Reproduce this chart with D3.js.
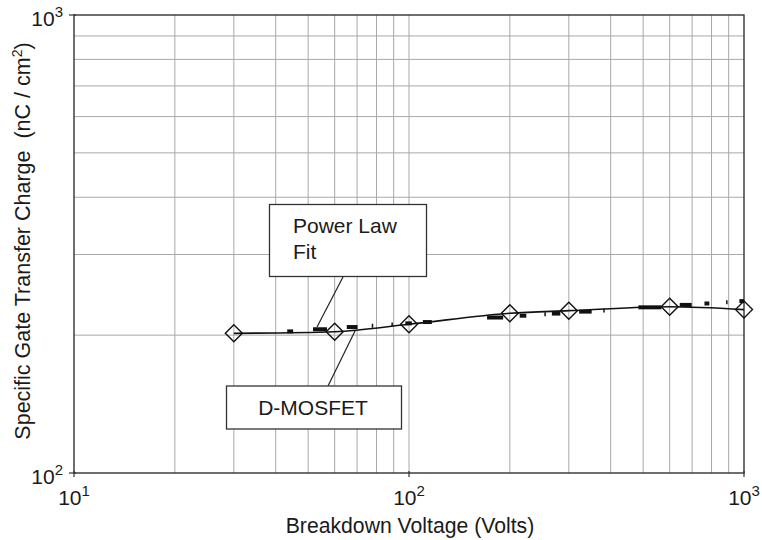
<!DOCTYPE html>
<html>
<head>
<meta charset="utf-8">
<script src="https://cdn.jsdelivr.net/npm/d3@7"></script>
<style>
  html, body { margin: 0; padding: 0; background: #fff; }
  svg { display: block; font-family: "Liberation Sans", Arial, Helvetica, sans-serif; }
</style>
</head>
<body>
<svg id="chart" width="762" height="540"></svg>
<script>
// ---- Data ----
const xDomain = [10, 1000];
const yDomain = [100, 1000];
const xGridValues = [20, 30, 40, 50, 60, 70, 80, 90, 100, 200, 300, 400, 500, 600, 700, 800, 900];
const yGridValues = [200, 300, 400, 500, 600, 700, 800, 900];
const xTickValues = [10, 100, 1000];
const yTickValues = [100, 1000];
const xTickExponents = ["1", "2", "3"];
const yTickExponents = ["2", "3"];

// D-MOSFET data points (breakdown voltage, specific gate transfer charge)
const dmosVoltage = [30, 60, 100, 200, 300, 600, 1000];
const dmosCharge = [201.8, 203.5, 211.2, 223.2, 226.2, 230.7, 227.4];

// Power law fit, drawn as irregular heavy dashes: start voltage, end voltage, charge
const fitDashStart = [43.3, 51.7, 65.2, 77.4, 88.6, 97.5, 110, 171, 214, 253.5, 267, 322, 380, 484, 643, 762, 884, 969];
const fitDashEnd   = [45.1, 56.9, 70.2, 77.9, 89.2, 102, 117, 191, 224, 255, 283, 351, 382.5, 567, 698, 788, 889, 1000];
const fitDashCharge = [203.8, 206.0, 208.3, 209.7, 211.0, 212.2, 213.6, 218.5, 220.5, 222.1, 222.9, 225.1, 226.5, 230.0, 232.8, 234.5, 236.0, 237.3];

const xTitle = "Breakdown Voltage (Volts)";
const yTitle = "Specific Gate Transfer Charge  (nC / cm";
const fitLabel = ["Power Law", "Fit"];
const dmosLabel = "D-MOSFET";

// ---- Layout ----
const svg = d3.select("#chart");
const L = 74, R = 744, T = 15, B = 473;
const x = d3.scaleLog().domain(xDomain).range([L, R]);
const y = d3.scaleLog().domain(yDomain).range([B, T]);

const gridColor = "#a8a8a8";
const ink = "#1a1a1a";

// grid
svg.append("g").selectAll("line").data(xGridValues).join("line")
  .attr("x1", d => x(d)).attr("x2", d => x(d))
  .attr("y1", T).attr("y2", B)
  .attr("stroke", gridColor).attr("stroke-width", 1);
svg.append("g").selectAll("line").data(yGridValues).join("line")
  .attr("x1", L).attr("x2", R)
  .attr("y1", d => y(d)).attr("y2", d => y(d))
  .attr("stroke", gridColor).attr("stroke-width", 1);

// frame
svg.append("rect").attr("x", L).attr("y", T).attr("width", R - L).attr("height", B - T)
  .attr("fill", "none").attr("stroke", "#333").attr("stroke-width", 1.4);

// ticks
svg.append("g").selectAll("line").data(xTickValues).join("line")
  .attr("x1", d => x(d)).attr("x2", d => x(d))
  .attr("y1", B - 2).attr("y2", B + 4)
  .attr("stroke", "#333").attr("stroke-width", 1.2);
svg.append("g").selectAll("line").data(yTickValues).join("line")
  .attr("x1", L - 5).attr("x2", L + 2)
  .attr("y1", d => y(d)).attr("y2", d => y(d))
  .attr("stroke", "#333").attr("stroke-width", 1.2);

// tick labels
const xt = svg.append("g").selectAll("text").data(xTickValues).join("text")
  .attr("x", d => x(d)).attr("y", 505)
  .attr("text-anchor", "middle").attr("font-size", 21).attr("fill", ink);
xt.append("tspan").text("10");
xt.append("tspan").attr("dy", -9).attr("font-size", 15).text((d, i) => xTickExponents[i]);

const yt = svg.append("g").selectAll("text").data(yTickValues).join("text")
  .attr("x", 63).attr("y", d => y(d) + 11)
  .attr("text-anchor", "end").attr("font-size", 21).attr("fill", ink);
yt.append("tspan").text("10");
yt.append("tspan").attr("dy", -9).attr("font-size", 15).text((d, i) => yTickExponents[i]);

// axis titles
svg.append("text").attr("x", 410).attr("y", 533)
  .attr("text-anchor", "middle").attr("font-size", 21.2).attr("fill", ink).text(xTitle);
const yl = svg.append("text").attr("transform", "translate(30,241) rotate(-90)")
  .attr("text-anchor", "middle").attr("font-size", 21.5).attr("fill", ink)
  .attr("xml:space", "preserve").style("white-space", "pre");
yl.append("tspan").text(yTitle);
yl.append("tspan").attr("dy", -8).attr("font-size", 14).text("2");
yl.append("tspan").attr("dy", 8).text(")");

// power law fit dashes
svg.append("g").selectAll("line").data(fitDashStart).join("line")
  .attr("x1", d => x(d)).attr("x2", (d, i) => Math.max(x(fitDashEnd[i]), x(d) + 1.5))
  .attr("y1", (d, i) => y(fitDashCharge[i])).attr("y2", (d, i) => y(fitDashCharge[i]))
  .attr("stroke", "#111").attr("stroke-width", 4);

// D-MOSFET line
const pts = dmosVoltage.map((v, i) => [v, dmosCharge[i]]);
svg.append("path").datum(pts)
  .attr("d", d3.line().x(d => x(d[0])).y(d => y(d[1])).curve(d3.curveMonotoneX))
  .attr("fill", "none").attr("stroke", "#111").attr("stroke-width", 1.6);

// diamonds
svg.append("g").selectAll("path").data(pts).join("path")
  .attr("transform", d => `translate(${x(d[0])},${y(d[1])})`)
  .attr("d", "M0,-8.5L8.5,0L0,8.5L-8.5,0Z")
  .attr("fill", "none").attr("stroke", "#111").attr("stroke-width", 1.4);

// annotations
const ann = svg.append("g");
ann.append("line").attr("x1", 343).attr("y1", 277).attr("x2", 317).attr("y2", 327)
  .attr("stroke", "#222").attr("stroke-width", 1.2);
ann.append("line").attr("x1", 328).attr("y1", 386).attr("x2", 355).attr("y2", 331)
  .attr("stroke", "#222").attr("stroke-width", 1.2);
ann.append("rect").attr("x", 269.5).attr("y", 204.5).attr("width", 157).attr("height", 72)
  .attr("fill", "#fff").attr("stroke", "#333").attr("stroke-width", 1.3);
ann.selectAll("text.fit").data(fitLabel).join("text").attr("class", "fit")
  .attr("x", 293).attr("y", (d, i) => 233 + i * 26)
  .attr("font-size", 21).attr("fill", ink).text(d => d);
ann.append("rect").attr("x", 226.5).attr("y", 386).attr("width", 175).attr("height", 43)
  .attr("fill", "#fff").attr("stroke", "#333").attr("stroke-width", 1.3);
ann.append("text").attr("x", 313).attr("y", 415).attr("text-anchor", "middle")
  .attr("font-size", 21).attr("fill", ink).text(dmosLabel);
</script>
</body>
</html>
